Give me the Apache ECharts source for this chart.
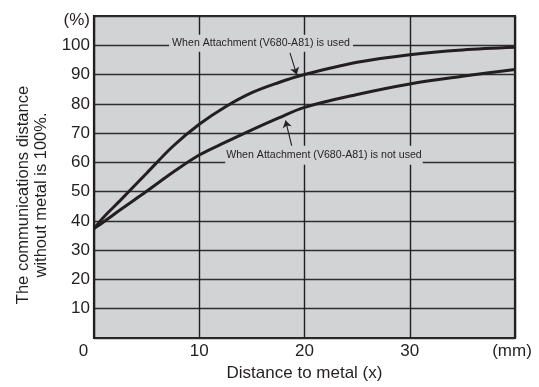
<!DOCTYPE html>
<html>
<head>
<meta charset="utf-8">
<script src="https://cdn.jsdelivr.net/npm/echarts@6/dist/echarts.min.js"></script>
<style>
html,body{margin:0;padding:0;background:#fff;}
#c{width:539px;height:387px;}
</style>
</head>
<body>
<div id="c"></div>
<script>
const xValues = [0, 1, 2.5, 5, 7.5, 10, 12.5, 15, 17.5, 20, 25, 30, 35, 40];
const usedValues = [37.4, 41.6, 47, 56.3, 65.5, 73, 79, 83.8, 87.2, 90, 94.2, 96.8, 98.4, 99.3];
const notUsedValues = [37.4, 39.9, 43.8, 50.1, 56.6, 62.5, 66.9, 71.1, 75.1, 78.8, 83.2, 86.8, 89.4, 91.7];
const xTickLabels = {0: '0', 10: '10', 20: '20', 30: '30', 40: '(mm)'};
const yTopLabel = '(%)';
const usedLabel = 'When Attachment (V680-A81) is used';
const notUsedLabel = 'When Attachment (V680-A81) is not used';
const usedLabelAt = [15.87, 100.7];
const notUsedLabelAt = [21.85, 62.4];
const usedArrow = [[18.62, 97.4], [19.26, 90.0]];
const notUsedArrow = [[18.81, 65.3], [18.2, 74.3]];

const ink = '#231f20';
const font = '"Liberation Sans", Arial, Helvetica, sans-serif';
const chart = echarts.init(document.getElementById('c'), null, {renderer: 'canvas'});

function pairs(xs, ys) { return xs.map((x, i) => [x, ys[i]]); }

const noteLabel = (text, pad) => ({
  show: true, position: 'inside', formatter: text,
  color: ink, fontFamily: font, fontSize: 10.6,
  backgroundColor: '#d1d3d4', padding: pad
});

chart.setOption({
  animation: false,
  grid: {left: 94, right: 24, top: 16, bottom: 49, show: true,
         backgroundColor: '#d1d3d4', borderColor: ink, borderWidth: 2.2},
  xAxis: {
    type: 'value', min: 0, max: 40, interval: 10,
    axisLine: {show: false}, axisTick: {show: false},
    splitLine: {show: true, lineStyle: {color: ink, width: 1.4}},
    axisLabel: {
      margin: 5, color: ink, fontFamily: font, fontSize: 17,
      formatter: v => {
        const t = xTickLabels[v];
        if (t === undefined) return '';
        if (v === 0) return '{z|' + t + '}';
        if (v === 40) return '{m|' + t + '}';
        return t;
      },
      rich: {
        z: {fontFamily: font, fontSize: 17, color: ink, padding: [0, 21, 0, 0]},
        m: {fontFamily: font, fontSize: 17, color: ink, padding: [0, 6, 0, 0]}
      }
    },
    name: 'Distance to metal (x)', nameLocation: 'middle', nameGap: 27,
    nameTextStyle: {color: ink, fontFamily: font, fontSize: 17}
  },
  yAxis: {
    type: 'value', min: 0, max: 110, interval: 10,
    axisLine: {show: false}, axisTick: {show: false},
    splitLine: {show: true, lineStyle: {color: '#2e2e2e', width: 1.4}},
    axisLabel: {
      margin: 4, color: ink, fontFamily: font, fontSize: 17,
      formatter: v => v === 0 ? '' : (v === 110 ? '{p|' + yTopLabel + '}' : String(v)),
      rich: {p: {fontFamily: font, fontSize: 17, color: ink, padding: [8, 0, 0, 0]}}
    },
    name: 'The communications distance\nwithout metal is 100%.',
    nameLocation: 'middle', nameGap: 34,
    nameTextStyle: {color: ink, fontFamily: font, fontSize: 16.5, lineHeight: 18,
                    padding: [0, 36, 0, 0]}
  },
  series: [
    {
      type: 'line', name: 'used', data: pairs(xValues, usedValues),
      smooth: 0.35, showSymbol: false, symbol: 'none',
      lineStyle: {color: ink, width: 3}, z: 3,
      markLine: {
        silent: true, symbol: ['none', 'arrow'], symbolSize: 7,
        label: {show: false},
        lineStyle: {color: ink, width: 1.1, type: 'solid'},
        data: [[{coord: usedArrow[0]}, {coord: usedArrow[1]}]]
      },
      markPoint: {
        silent: true, symbol: 'circle', symbolSize: 1,
        itemStyle: {color: 'rgba(0,0,0,0)'},
        data: [{coord: usedLabelAt, label: noteLabel(usedLabel, [2, 3, 4, 3])}]
      }
    },
    {
      type: 'line', name: 'not used', data: pairs(xValues, notUsedValues),
      smooth: 0.35, showSymbol: false, symbol: 'none',
      lineStyle: {color: ink, width: 3}, z: 3,
      markLine: {
        silent: true, symbol: ['none', 'arrow'], symbolSize: 7,
        label: {show: false},
        lineStyle: {color: ink, width: 1.1, type: 'solid'},
        data: [[{coord: notUsedArrow[0]}, {coord: notUsedArrow[1]}]]
      },
      markPoint: {
        silent: true, symbol: 'circle', symbolSize: 1,
        itemStyle: {color: 'rgba(0,0,0,0)'},
        data: [{coord: notUsedLabelAt, label: noteLabel(notUsedLabel, [2, 1, 6, 1])}]
      }
    }
  ]
});
</script>
</body>
</html>
